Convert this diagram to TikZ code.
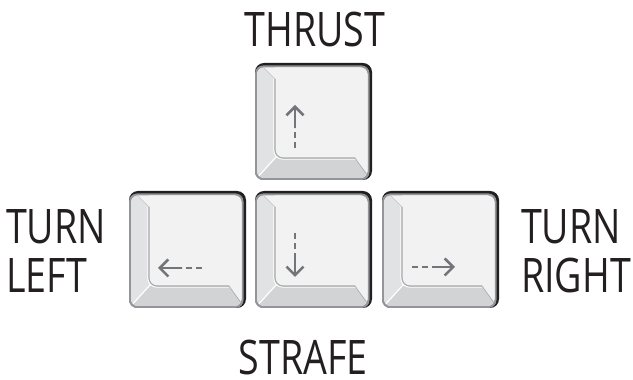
\documentclass[tikz,border=0pt]{standalone}
\usepackage{fontspec}
\newfontfamily\labfont[FakeStretch=0.79]{Open Sans}
\usetikzlibrary{arrows.meta,calc}
\definecolor{ink}{HTML}{231F20}
\definecolor{keyblack}{HTML}{231F20}
\definecolor{keyedge}{HTML}{939598}
\definecolor{keyface}{HTML}{F2F2F3}
\definecolor{keyleft}{HTML}{E1E2E3}
\definecolor{keybottom}{HTML}{D2D3D5}
\definecolor{keyline}{HTML}{A7A9AC}
\definecolor{arrowgray}{HTML}{737578}
\tikzset{
  lab/.style={font=\labfont\fontsize{47.6}{49}\selectfont, text=ink, inner sep=0pt},
  keyspot/.style={rectangle, minimum width=117pt, minimum height=117pt, inner sep=0pt},
  arrowdash/.style={draw=arrowgray, line width=2.6pt, dash pattern=on 6pt off 4pt},
  arrowsolid/.style={draw=arrowgray, line width=2.6pt, -{Straight Barb[length=8.5pt,width=17pt]}},
  keycap/.pic={
    \fill[keyblack, rounded corners=9pt] (0,0) rectangle (117,117);
    \fill[keyedge, rounded corners=8pt] (0,0) rectangle (114.5,114.5);
    \begin{scope}
      \clip[rounded corners=7pt] (2,2) rectangle (112.5,112.5);
      \fill[keyface] (0,0) rectangle (117,117);
      \fill[keyleft] (0,0) -- (20,22) -- (20,101) -- (6,115) -- (0,115) -- cycle;
      \fill[keybottom] (0,0) -- (20,22) -- (100,22) -- (117,0) -- cycle;
      \fill[keyface] (20,120) -- (20,30) arc[start angle=180, end angle=270, radius=8] -- (100,22) -- (117,0) -- (120,0) -- (120,120) -- cycle;
      \draw[white, line width=1pt] (18.8,101) -- (18.8,30) arc[start angle=180, end angle=270, radius=9.2] -- (100,20.8);
      \draw[keyline, line width=1.1pt] (20,101) -- (20,30) arc[start angle=180, end angle=270, radius=8] -- (100,22);
      \draw[white, line width=1.2pt] (1,1) -- (21.5,23.5);
      \draw[keyline, line width=0.6pt] (100,22) -- (115,1);
      \draw[keyline!70, line width=0.5pt] (20,101) -- (5,116);
    \end{scope}
  }
}
\begin{document}
\begin{tikzpicture}[x=1pt, y=1pt]
\useasboundingbox (0,0) rectangle (633,380);
% key positions
\node[keyspot, anchor=south west] (upkey) at (255,200) {};
\node[keyspot, anchor=south west] (leftkey) at (129,72) {};
\node[keyspot, anchor=south west] (downkey) at (255,72) {};
\node[keyspot, anchor=south west] (rightkey) at (382,72) {};
\pic at (upkey.south west) {keycap};
\pic at (leftkey.south west) {keycap};
\pic at (downkey.south west) {keycap};
\pic at (rightkey.south west) {keycap};
% arrows
\coordinate (upTail) at (295,232);
\coordinate (upTip) at (295,275);
\coordinate (dnTail) at (295,147);
\coordinate (dnTip) at (295,103);
\coordinate (ltTail) at (202,112);
\coordinate (ltTip) at (158,112);
\coordinate (rtTail) at (412,113);
\coordinate (rtTip) at (455,113);
\foreach \a in {up,dn,lt,rt}{
  \coordinate (\a Mid) at ($(\a Tail)!20pt!(\a Tip)$);
  \draw[arrowdash] (\a Tail) -- (\a Mid);
  \draw[arrowsolid] (\a Mid) -- (\a Tip);
}
% labels
\node[lab, anchor=base] (thrust) at (315,333) {THRUST};
\node[lab, anchor=base west, align=left] (turnleft) at (6,87) {TURN\\LEFT};
\node[lab, anchor=base west, align=left] (turnright) at (521,87) {TURN\\RIGHT};
\node[lab, anchor=base] (strafe) at (303,5) {STRAFE};
\end{tikzpicture}
\end{document}
